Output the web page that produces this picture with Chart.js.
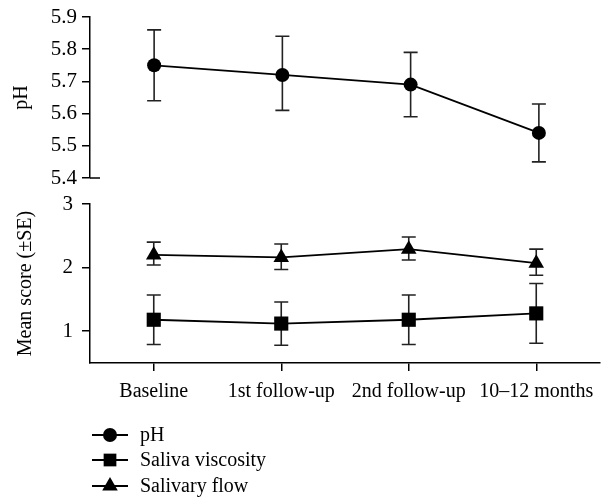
<!DOCTYPE html>
<html>
<head>
<meta charset="utf-8">
<script src="https://cdn.jsdelivr.net/npm/chart.js@4/dist/chart.umd.min.js"></script>
<style>
  html, body { margin: 0; padding: 0; background: #fff; }
  #wrap { position: relative; width: 610px; height: 499px; }
  #topBox { position: absolute; left: 0; top: 0; width: 610px; height: 190px; }
  #botBox { position: absolute; left: 0; top: 190px; width: 610px; height: 309px; }
</style>
</head>
<body>
<div id="wrap">
  <div id="topBox"><canvas id="topChart"></canvas></div>
  <div id="botBox"><canvas id="botChart"></canvas></div>
</div>
<script>
/* ---------- DATA ---------- */

const categories = ["Baseline", "1st follow-up", "2nd follow-up", "10\u201312 months"];

const phMean  = [5.75, 5.72, 5.69, 5.54];
const phUpper = [5.86, 5.84, 5.79, 5.63];
const phLower = [5.64, 5.61, 5.59, 5.45];

const viscMean  = [1.18, 1.12, 1.18, 1.28];
const viscUpper = [1.57, 1.46, 1.57, 1.75];
const viscLower = [0.79, 0.78, 0.79, 0.81];

const flowMean  = [2.20, 2.16, 2.29, 2.07];
const flowUpper = [2.40, 2.37, 2.48, 2.29];
const flowLower = [2.04, 1.97, 2.12, 1.88];

const phTicks = [5.4, 5.5, 5.6, 5.7, 5.8, 5.9];
const scoreTicks = [1, 2, 3];

const seriesNames = ["pH", "Saliva viscosity", "Salivary flow"];

/* ---------- STYLE ---------- */

const FONT = "'Liberation Serif', 'DejaVu Serif', serif";
const INK = "#000";

const markers = {
  "pH": { pointStyle: "circle", radius: 7 },
  "Saliva viscosity": { pointStyle: "rect", radius: 10 },
  "Salivary flow": { pointStyle: "triangle", radius: 9 }
};

function lineDataset(label, data, upper, lower) {
  return {
    label,
    data,
    upper,
    lower,
    borderColor: INK,
    backgroundColor: INK,
    borderWidth: 1.8,
    tension: 0,
    pointStyle: markers[label].pointStyle,
    pointRadius: markers[label].radius,
    pointBorderWidth: 0,
    pointBackgroundColor: INK
  };
}

/* ---------- PLUGINS ---------- */

// error bars behind the points
const errorBars = {
  id: "errorBars",
  beforeDatasetsDraw(chart) {
    const { ctx, scales } = chart;
    const xs = scales.x, ys = scales.y;
    ctx.save();
    ctx.strokeStyle = "#222";
    ctx.lineWidth = 1.6;
    chart.data.datasets.forEach(ds => {
      ds.data.forEach((v, i) => {
        const x = xs.getPixelForValue(i);
        const yt = ys.getPixelForValue(ds.upper[i]);
        const yb = ys.getPixelForValue(ds.lower[i]);
        ctx.beginPath();
        ctx.moveTo(x, yt); ctx.lineTo(x, yb);
        ctx.moveTo(x - 7, yt); ctx.lineTo(x + 7, yt);
        ctx.moveTo(x - 7, yb); ctx.lineTo(x + 7, yb);
        ctx.stroke();
      });
    });
    ctx.restore();
  }
};

// little foot at the bottom of the pH axis
const axisFoot = {
  id: "axisFoot",
  afterDraw(chart) {
    const { ctx, scales } = chart;
    const y = scales.y.getPixelForValue(phTicks[0]);
    const x = chart.chartArea.left;
    ctx.save();
    ctx.strokeStyle = INK;
    ctx.lineWidth = 1.5;
    ctx.beginPath();
    ctx.moveTo(x, y); ctx.lineTo(x + 10, y);
    ctx.stroke();
    ctx.restore();
  }
};

// vertical legend under the plot
const sideLegend = {
  id: "sideLegend",
  afterDraw(chart) {
    const ctx = chart.ctx;
    const rowY = [245, 270, 296];
    ctx.save();
    ctx.font = "20px " + FONT;
    ctx.textBaseline = "middle";
    seriesNames.forEach((name, i) => {
      const y = rowY[i];
      ctx.strokeStyle = INK;
      ctx.fillStyle = INK;
      ctx.lineWidth = 1.8;
      ctx.beginPath();
      ctx.moveTo(92, y); ctx.lineTo(128, y);
      ctx.stroke();
      const m = markers[name];
      Chart.helpers.drawPoint(ctx, {
        pointStyle: m.pointStyle,
        radius: m.pointStyle === "rect" ? 9 : m.radius,
        rotation: 0,
        borderWidth: 0
      }, 110, y);
      ctx.fillStyle = INK;
      ctx.fillText(name, 140, y + 1);
    });
    ctx.restore();
  }
};

/* ---------- CHARTS ---------- */

function yAxis(min, max, ticks, title, pad, titlePad, fmt) {
  return {
    min, max,
    afterBuildTicks(scale) { scale.ticks = ticks.map(v => ({ value: v })); },
    afterFit(scale) {
      scale.width = 90;
      scale.paddingTop = 0;
      scale.paddingBottom = 0;
    },
    border: { display: true, color: INK, width: 1.5 },
    grid: { drawOnChartArea: false, drawTicks: true, tickLength: 8, color: INK, lineWidth: 1.5 },
    ticks: {
      color: INK,
      padding: pad,
      font: { family: FONT, size: 21 },
      callback: fmt
    },
    title: {
      display: true,
      text: title,
      color: INK,
      padding: { top: titlePad, bottom: 0 },
      font: { family: FONT, size: 20 }
    }
  };
}

const common = {
  responsive: true,
  maintainAspectRatio: false,
  animation: false,
  events: [],
  plugins: { legend: { display: false }, tooltip: { enabled: false } }
};

new Chart(document.getElementById("topChart"), {
  type: "line",
  data: {
    labels: categories,
    datasets: [lineDataset("pH", phMean, phUpper, phLower)]
  },
  options: {
    ...common,
    layout: { padding: { top: 17, bottom: 12, left: 0, right: 0 } },
    scales: {
      x: { type: "category", offset: true, display: false },
      y: yAxis(5.4, 5.9, phTicks, "pH", 5, 10, v => Number(v).toFixed(1))
    }
  },
  plugins: [errorBars, axisFoot]
});

new Chart(document.getElementById("botChart"), {
  type: "line",
  data: {
    labels: categories,
    datasets: [
      lineDataset("Saliva viscosity", viscMean, viscUpper, viscLower),
      lineDataset("Salivary flow", flowMean, flowUpper, flowLower)
    ]
  },
  options: {
    ...common,
    layout: { padding: { top: 14, bottom: 0, left: 0, right: 0 } },
    scales: {
      x: {
        type: "category",
        offset: true,
        afterFit(scale) {
          scale.height = 136;
          scale.paddingLeft = 0;
          scale.paddingRight = 0;
        },
        border: { display: true, color: INK, width: 1.5 },
        grid: { offset: false, drawOnChartArea: false, drawTicks: true, tickLength: 8, color: INK, lineWidth: 1.5 },
        ticks: {
          color: INK,
          padding: 9,
          maxRotation: 0,
          autoSkip: false,
          font: { family: FONT, size: 20 }
        }
      },
      y: yAxis(0.5, 3, scoreTicks, "Mean score (\u00b1SE)", 9, 14, v => String(v))
    }
  },
  plugins: [errorBars, sideLegend]
});
</script>
</body>
</html>
